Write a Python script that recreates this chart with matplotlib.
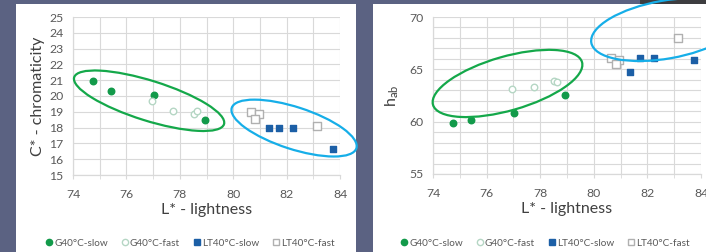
import matplotlib
matplotlib.use("Agg")
import matplotlib.pyplot as plt
from matplotlib.patches import Ellipse, Rectangle
from matplotlib.transforms import ScaledTranslation
from matplotlib.lines import Line2D
from matplotlib.ticker import MultipleLocator

plt.rcParams['font.family'] = ['Lato', 'DejaVu Sans']

# L* lightness, C* chromaticity, h_ab hue angle
g_slow_L = [74.75, 75.43, 77.03, 78.93]
g_slow_C = [20.95, 20.32, 20.08, 18.45]
g_slow_h = [59.9, 60.2, 60.85, 62.55]

g_fast_L = [76.95, 77.75, 78.52, 78.63]
g_fast_C = [19.68, 19.08, 18.88, 19.05]
g_fast_h = [63.1, 63.28, 63.9, 63.8]

lt_slow_L = [81.35, 81.72, 82.23, 83.75]
lt_slow_C = [18.0, 18.0, 18.0, 16.62]
lt_slow_h = [64.7, 66.12, 66.12, 65.85]

lt_fast_L = [80.65, 80.95, 80.82, 83.15]
lt_fast_C = [19.0, 18.86, 18.54, 18.1]
lt_fast_h = [66.12, 65.9, 65.5, 67.95]

labels = ['G40°C-slow', 'G40°C-fast', 'LT40°C-slow', 'LT40°C-fast']

SLATE = '#5b6282'
GREEN = '#129a4a'
BLUE = '#1c5fa6'
PALE_G = '#b5d6c4'
PALE_B = '#b0b0b0'
GRID = '#d9d9d9'
TXT = '#595959'
W, H = 706, 252


def fx(px):
    return px / W


def fy(py):
    return 1 - py / H


fig = plt.figure(figsize=(W / 100, H / 100), dpi=100)
fig.patch.set_facecolor(SLATE)
# white panels
fig.add_artist(Rectangle((fx(16), 0), fx(356) - fx(16), fy(4), transform=fig.transFigure,
                         facecolor='white', edgecolor='none', zorder=0))
fig.add_artist(Rectangle((fx(373), 0), 1 - fx(373), fy(4), transform=fig.transFigure,
                         facecolor='white', edgecolor='none', zorder=0))
fig.add_artist(Rectangle((fx(640), fy(4)), 1 - fx(640), 1 - fy(4), transform=fig.transFigure,
                         facecolor='#3d3d40', edgecolor='none', zorder=0))

ax1 = fig.add_axes([fx(73), fy(175), fx(340) - fx(73), fy(17) - fy(175)])
ax2 = fig.add_axes([fx(433), fy(174), fx(701) - fx(433), fy(17) - fy(174)])


def style(ax):
    ax.set_facecolor('none')
    ax.set_xlim(74, 84)
    ax.xaxis.set_major_locator(MultipleLocator(2))
    ax.xaxis.set_minor_locator(MultipleLocator(1))
    ax.grid(True, which='both', color=GRID, linewidth=0.8)
    ax.set_axisbelow(True)
    for s in ['top', 'right']:
        ax.spines[s].set_visible(False)
    for s in ['left', 'bottom']:
        ax.spines[s].set_color(GRID)
        ax.spines[s].set_linewidth(0.9)
    ax.tick_params(axis='x', which='both', length=3, color=GRID, labelsize=8.8,
                   labelcolor=TXT, pad=7)
    ax.tick_params(axis='y', which='both', length=0, labelsize=8.8, labelcolor=TXT, pad=7)
    ax.set_xlabel('L* - lightness', fontsize=11.5, color='#404040', labelpad=2)


def scatter_all(ax, ys):
    ax.scatter(g_slow_L, ys[0], s=22, marker='o', color=GREEN, zorder=3, clip_on=False)
    ax.scatter(g_fast_L, ys[1], s=22, marker='o', facecolor='white', edgecolor=PALE_G,
               linewidth=1, zorder=3, clip_on=False)
    ax.scatter(lt_slow_L, ys[2], s=22, marker='s', color=BLUE, zorder=3, clip_on=False)
    ax.scatter(lt_fast_L, ys[3], s=26, marker='s', facecolor='white', edgecolor=PALE_B,
               linewidth=1, zorder=3, clip_on=False)


def ring(ax, cx, cy, w_px, h_px, ang, color):
    tr = fig.dpi_scale_trans + ScaledTranslation(cx, cy, ax.transData)
    e = Ellipse((0, 0), w_px / 100, h_px / 100, angle=ang, transform=tr,
                fill=False, edgecolor=color, linewidth=1.6, zorder=4, clip_on=False)
    ax.add_artist(e)


style(ax1)
ax1.set_ylim(15, 25)
ax1.yaxis.set_major_locator(MultipleLocator(1))
ax1.set_ylabel('C* - chromaticity', fontsize=11.5, color='#404040', labelpad=3)
scatter_all(ax1, [g_slow_C, g_fast_C, lt_slow_C, lt_fast_C])
ring(ax1, 76.85, 19.7, 157, 40, -17.4, '#14a84a')
ring(ax1, 82.28, 17.97, 131, 42, -18, '#16aee8')

style(ax2)
ax2.set_ylim(55, 70)
ax2.yaxis.set_major_locator(MultipleLocator(5))
ax2.yaxis.set_minor_locator(MultipleLocator(1))
ax2.set_ylabel(r'h$_{\mathregular{ab}}$', fontsize=11.5, color='#404040', labelpad=6)
scatter_all(ax2, [g_slow_h, g_fast_h, lt_slow_h, lt_fast_h])
ring(ax2, 76.78, 63.65, 155, 54, 16, '#14a84a')
ring(ax2, 82.7, 68.8, 152, 58, 10, '#16aee8')

handles = [
    Line2D([], [], marker='o', linestyle='none', color=GREEN, markersize=4.5),
    Line2D([], [], marker='o', linestyle='none', markerfacecolor='white',
           markeredgecolor=PALE_G, markersize=4.5),
    Line2D([], [], marker='s', linestyle='none', color=BLUE, markersize=4.5),
    Line2D([], [], marker='s', linestyle='none', markerfacecolor='white',
           markeredgecolor=PALE_B, markersize=4.5),
]
for cx in [190, 545]:
    fig.legend(handles, labels, loc='center', bbox_to_anchor=(fx(cx), fy(243)), ncol=4,
               frameon=False, fontsize=7.2, handlelength=0.8, handletextpad=0.1,
               columnspacing=1.3, labelcolor=TXT, borderaxespad=0, borderpad=0)

fig.savefig('out.png', dpi=100, facecolor=SLATE)
